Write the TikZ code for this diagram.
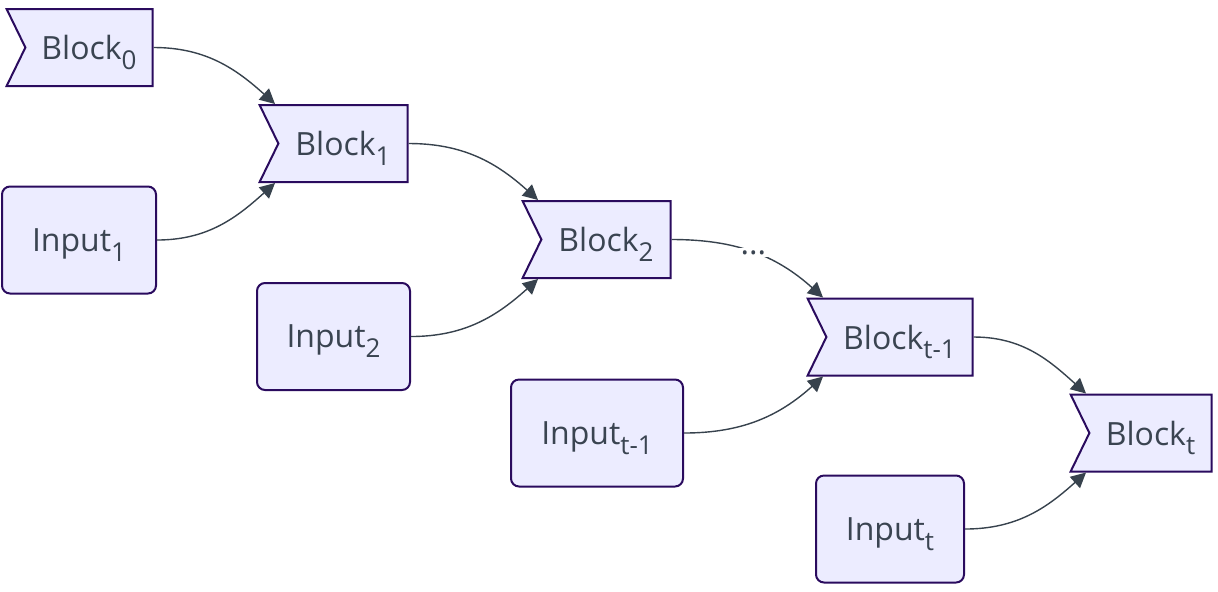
\documentclass[tikz,border=0pt]{standalone}
\usepackage{fontspec}
\setmainfont{Open Sans}
\usetikzlibrary{calc,arrows.meta,shapes.symbols}
\definecolor{boxfill}{HTML}{ECECFF}
\definecolor{boxline}{HTML}{2A0B5E}
\definecolor{txtcol}{HTML}{3A4451}
\definecolor{edgecol}{HTML}{37424D}
\newcommand{\lowidx}[1]{\raisebox{-0.3em}[\height][0pt]{\fontsize{13}{13}\selectfont #1}}
\tikzset{
  blk/.style={shape=signal, signal from=west, signal to=nowhere, signal pointer angle=128,
    draw=boxline, fill=boxfill, line width=1pt, text=txtcol, inner sep=0pt,
    minimum height=38.5pt},
  inp/.style={draw=boxline, fill=boxfill, line width=1pt, rounded corners=4pt,
    text=txtcol, text depth=0pt, minimum height=53.5pt},
  flow/.style={->, draw=edgecol, line width=0.7pt},
}
\begin{document}
\begin{tikzpicture}[x=0.5pt,y=-0.5pt,>={Triangle[length=7.5pt,width=7.5pt]},
    font=\fontsize{16}{19}\selectfont]
        \useasboundingbox (0,0) rectangle (1218,591);
        % blocks
        \node[blk, minimum width=73pt] (B0) at (89,47.5) {Block\lowidx{0}};
        \node[blk, minimum width=74pt] (B1) at (343,143.5) {Block\lowidx{1}};
        \node[blk, minimum width=74pt] (B2) at (606,239.5) {Block\lowidx{2}};
        \node[blk, minimum width=82.5pt] (B3) at (899.5,337) {Block\lowidx{t-1}};
        \node[blk, minimum width=70.5pt] (B4) at (1150.5,433) {Block\lowidx{t}};
        % inputs
        \node[inp, minimum width=77pt] (I1) at (79,240) {Input\lowidx{1}};
        \node[inp, minimum width=76.5pt] (I2) at (333.5,336.5) {Input\lowidx{2}};
        \node[inp, minimum width=86pt] (I3) at (597,433) {Input\lowidx{t-1}};
        \node[inp, minimum width=74pt] (I4) at (890,529) {Input\lowidx{t}};
        % edges
        \draw[flow] (B0.east) to[out=0,in=138] ([xshift=8.5pt]B1.north west);
        \draw[flow] (I1.east) to[out=0,in=222] ([xshift=8.5pt]B1.south west);
        \draw[flow] (B1.east) to[out=0,in=138] ([xshift=8.5pt]B2.north west);
        \draw[flow] (I2.east) to[out=0,in=222] ([xshift=8.5pt]B2.south west);
        \draw[flow] (B2.east) to[out=0,in=138] node[fill=white, inner sep=1pt, text=txtcol, pos=0.5] {...} ([xshift=8.5pt]B3.north west);
        \draw[flow] (I3.east) to[out=0,in=222] ([xshift=8.5pt]B3.south west);
        \draw[flow] (B3.east) to[out=0,in=138] ([xshift=8.5pt]B4.north west);
        \draw[flow] (I4.east) to[out=0,in=222] ([xshift=8.5pt]B4.south west);
\end{tikzpicture}
\end{document}
